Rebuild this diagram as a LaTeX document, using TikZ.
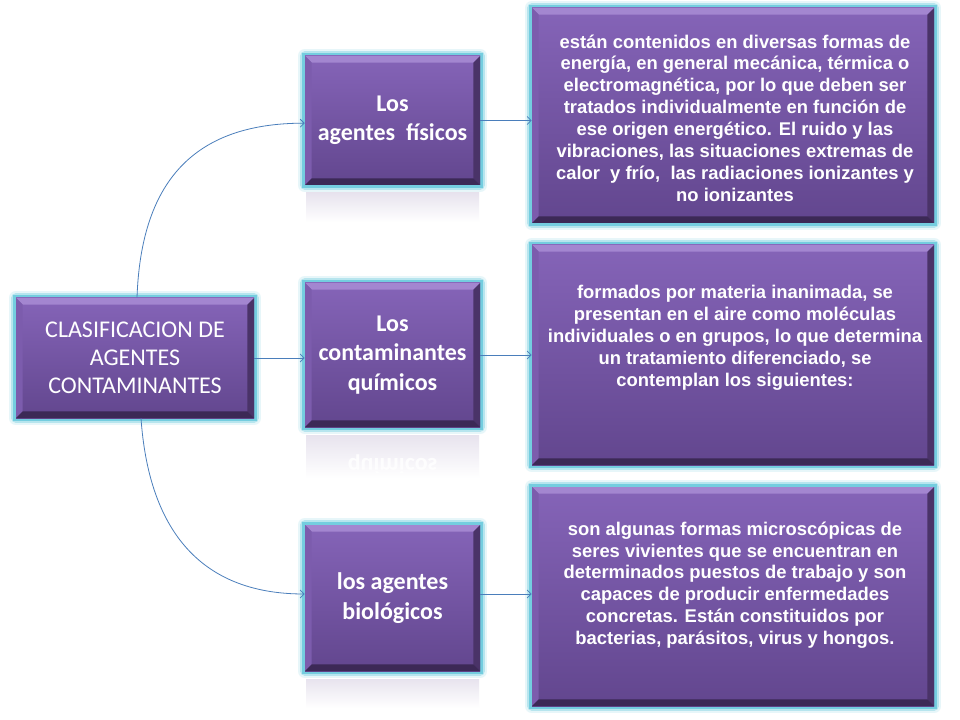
\documentclass[tikz,border=0pt]{standalone}
\usepackage{fontspec}
\setmainfont{Carlito}
\newfontfamily\arialfont{Liberation Sans}
\usetikzlibrary{arrows.meta}
\definecolor{lilaclaro}{HTML}{8564B8}
\definecolor{lilaoscuro}{HTML}{62468E}
\definecolor{biselsup}{HTML}{A386D0}
\definecolor{biselizq}{HTML}{7C5CAD}
\definecolor{biselder}{HTML}{4A3368}
\definecolor{biselinf}{HTML}{3C2956}
\definecolor{brillo}{HTML}{5EC6DA}
\definecolor{flecha}{HTML}{4A7EBB}
\tikzset{
  caja/.style={rectangle, inner sep=0pt, text=white, align=center,
    top color=lilaclaro, bottom color=lilaoscuro,
    preaction={draw=brillo, line width=11pt, opacity=.15, line join=round},
    preaction={draw=brillo, line width=7pt, opacity=.35, line join=round},
    preaction={draw=brillo, line width=4pt, opacity=.75},
    path picture={
      \fill[biselsup] (path picture bounding box.north west) -- (path picture bounding box.north east)
        -- ([shift={(-5pt,-5pt)}]path picture bounding box.north east) -- ([shift={(5pt,-5pt)}]path picture bounding box.north west) -- cycle;
      \fill[biselizq] (path picture bounding box.north west) -- (path picture bounding box.south west)
        -- ([shift={(5pt,5pt)}]path picture bounding box.south west) -- ([shift={(5pt,-5pt)}]path picture bounding box.north west) -- cycle;
      \fill[biselder] (path picture bounding box.north east) -- (path picture bounding box.south east)
        -- ([shift={(-5pt,5pt)}]path picture bounding box.south east) -- ([shift={(-5pt,-5pt)}]path picture bounding box.north east) -- cycle;
      \fill[biselinf] (path picture bounding box.south west) -- (path picture bounding box.south east)
        -- ([shift={(-5pt,5pt)}]path picture bounding box.south east) -- ([shift={(5pt,5pt)}]path picture bounding box.south west) -- cycle;
    }},
  raizfont/.style={font=\fontsize{18pt}{21pt}\selectfont},
  agentefont/.style={font=\bfseries\fontsize{18pt}{22pt}\selectfont},
  textofont/.style={text=white, align=center, inner sep=0pt,
    font=\arialfont\bfseries\fontsize{13.8pt}{16.4pt}\selectfont},
  flechita/.style={draw=flecha, line width=.6pt, -{Straight Barb[length=3pt,width=6pt]}},
  reflejo/.style={top color=lilaoscuro!15, bottom color=white, draw=none}
}

\begin{document}
\begin{tikzpicture}[x=0.75pt, y=-0.75pt]
\useasboundingbox[fill=white] (0,0) rectangle (960,720);

% reflejos
\shade[reflejo] (306,193) rectangle (479,222);
\shade[reflejo] (306,435) rectangle (479,478);
\shade[reflejo] (306,679) rectangle (479,708);
\begin{scope}
  \clip (306,448) rectangle (479,472);
  \node[agentefont, text=white, yscale=-1, opacity=.85] (espejo) at (392.5,465) {químicos};
\end{scope}

% cajas
\node[caja, raizfont, minimum width=178.5pt, minimum height=90pt] (raiz) at (135,358)
  {CLASIFICACION DE\\AGENTES\\CONTAMINANTES};
\node[caja, agentefont, minimum width=131.25pt, minimum height=96.75pt] (fis) at (392.5,120.5)
  {Los\\agentes~ físicos};
\node[caja, agentefont, minimum width=131.25pt, minimum height=108pt] (qui) at (392.5,355)
  {Los\\contaminantes\\químicos};
\node[caja, agentefont, minimum width=131.25pt, minimum height=109.5pt] (bio) at (392.5,598)
  {los agentes\\biológicos};

\node[caja, minimum width=301.5pt, minimum height=161.25pt] (t1) at (733,115.5) {};
\node[caja, minimum width=301.5pt, minimum height=165pt] (t2) at (733,355) {};
\node[caja, minimum width=301.5pt, minimum height=164.25pt] (t3) at (733,596.5) {};

\node[textofont] (x1) at (735,118) {están contenidos en diversas formas de\\energía, en general mecánica, térmica o\\electromagnética, por lo que deben ser\\tratados individualmente en función de\\ese origen energético. El ruido y las\\vibraciones, las situaciones extremas de\\calor~ y frío,~ las radiaciones ionizantes y\\no ionizantes};
\node[textofont] (x2) at (735,338) {formados por materia inanimada, se\\presentan en el aire como moléculas\\individuales o en grupos, lo que determina\\un tratamiento diferenciado, se\\contemplan los siguientes:};
\node[textofont] (x3) at (735,585) {son algunas formas microscópicas de\\seres vivientes que se encuentran en\\determinados puestos de trabajo y son\\capaces de producir enfermedades\\concretas. Están constituidos por\\bacterias, parásitos, virus y hongos.};

% conexiones
\draw[flechita] ([xshift=1.5pt]raiz.north) to[out=88, in=180, looseness=1.2] ([yshift=-2pt]fis.west);
\draw[flechita] (raiz.east) -- (raiz.east -| qui.west);
\draw[flechita] ([xshift=4.5pt]raiz.south) to[out=-86, in=180, looseness=1.15] ([yshift=3pt]bio.west);
\draw[flechita] (fis.east) -- (fis.east -| t1.west);
\draw[flechita] (qui.east) -- (qui.east -| t2.west);
\draw[flechita] ([yshift=3pt]bio.east) -- ([yshift=3pt]bio.east -| t3.west);
\end{tikzpicture}
\end{document}
